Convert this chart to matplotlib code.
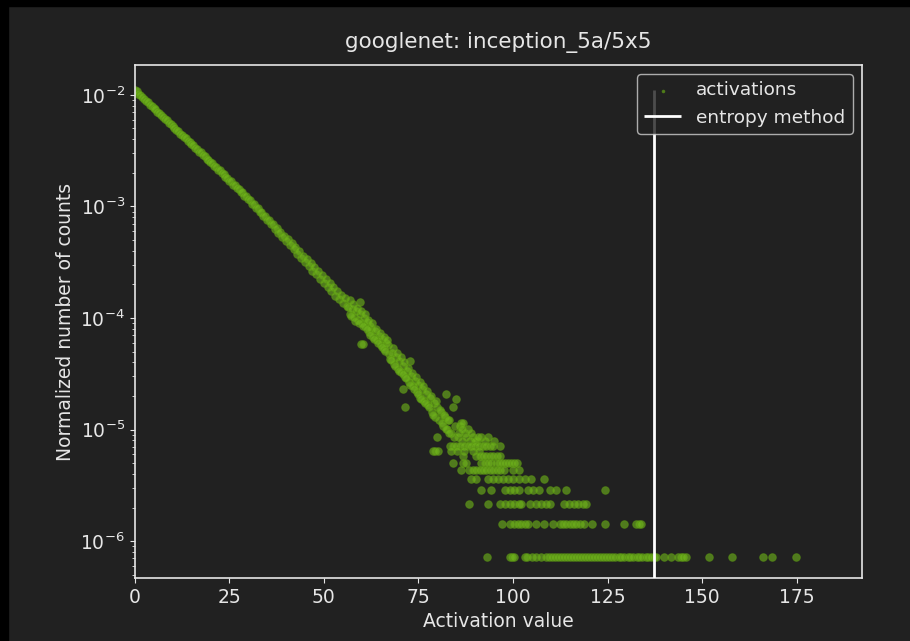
import numpy as np
import matplotlib.pyplot as plt
from matplotlib.patches import Rectangle

plt.rcParams['font.family'] = ['DejaVu Sans']

TITLE = 'googlenet: inception_5a/5x5'
TOTAL_COUNTS = 1.393e6   # one count sits at ~7.2e-7 on the normalised axis
THRESHOLD = 137.4        # threshold found by the entropy method

# ------------------------------------------------------------------
# dense head of the histogram (x = 0 .. 56 every 0.5): log10 of the
# normalised count
# ------------------------------------------------------------------
head_x = np.arange(0, 56.5, 0.5)
head_logy = [
    -1.955, -1.968, -1.990, -2.002, -2.022, -2.034, -2.055, -2.066, -2.087, -2.099,
    -2.120, -2.131, -2.152, -2.163, -2.185, -2.196, -2.218, -2.229, -2.250, -2.262,
    -2.282, -2.293, -2.315, -2.325, -2.347, -2.357, -2.379, -2.389, -2.411, -2.421,
    -2.443, -2.452, -2.476, -2.484, -2.508, -2.516, -2.540, -2.548, -2.572, -2.580,
    -2.604, -2.613, -2.638, -2.645, -2.671, -2.678, -2.705, -2.711, -2.738, -2.743,
    -2.772, -2.776, -2.805, -2.809, -2.838, -2.842, -2.871, -2.875, -2.905, -2.907,
    -2.938, -2.942, -2.975, -2.977, -3.012, -3.012, -3.050, -3.046, -3.087, -3.082,
    -3.125, -3.118, -3.162, -3.154, -3.200, -3.190, -3.238, -3.226, -3.275, -3.262,
    -3.310, -3.295, -3.350, -3.330, -3.385, -3.368, -3.425, -3.398, -3.460, -3.440,
    -3.500, -3.472, -3.538, -3.510, -3.575, -3.545, -3.610, -3.580, -3.650, -3.615,
    -3.688, -3.650, -3.725, -3.690, -3.760, -3.720, -3.800, -3.755, -3.832, -3.790,
    -3.870, -3.820, -3.895,
]

# noisy middle part: activation value and raw bin count
mid_x = [56.5, 57.0, 57.5, 58.0, 58.5, 59.0, 59.5, 59.5, 59.9, 60.0, 60.4, 60.5,
         61.0, 61.5, 62.0, 62.1, 62.5, 63.0, 63.5, 64.0, 64.5, 65.0, 65.5, 66.0,
         66.5, 67.0, 67.3, 67.5, 68.0, 68.5, 69.0, 69.5, 70.0, 70.5, 70.9, 71.0,
         71.4, 71.5, 72.0, 72.5, 72.7, 73.0, 73.5, 74.0, 74.5, 75.0, 75.5, 76.0,
         76.5, 77.0, 77.5, 78.0, 78.5, 78.9, 79.0, 79.3, 79.5, 79.8, 80.0, 80.2,
         80.5, 81.0, 81.5, 82.0, 82.4, 82.5, 83.0, 83.7, 84.1, 84.5, 85.0, 85.5,
         86.0, 86.3, 86.5, 86.8, 87.3, 88.1, 88.6, 89.5, 90.5, 91.5,
         56.8, 57.3, 57.8, 58.3, 58.8, 59.3, 59.8, 60.3, 60.8, 61.3, 61.8, 62.3,
         62.8, 63.3, 63.8, 64.3, 64.8, 65.3, 65.8, 66.3, 66.8, 67.8, 68.3, 68.8,
         69.3, 69.8, 70.3, 70.8, 71.3, 71.8, 72.3, 72.8, 73.3, 73.8, 74.3, 74.8,
         75.3, 75.8, 76.3, 76.8, 77.3, 77.8, 78.3, 78.8, 79.6, 80.7, 81.2, 81.7,
         82.2, 82.7, 83.2, 84.8, 85.8, 86.6, 87.6, 88.9, 89.9, 90.8, 92.5, 93.5,
         95.0]
mid_counts = [176, 150, 168, 141, 160, 133, 195, 150, 82, 126, 82, 140,
              117, 128, 104, 118, 112, 95, 106, 88, 97, 80, 90, 74,
              83, 80, 66, 60, 68, 54, 62, 49, 57, 46, 32, 52,
              22, 41, 47, 37, 57, 42, 34, 38, 30, 35, 27, 32,
              25, 29, 23, 27, 20, 9, 24, 9, 18, 12, 22, 9,
              17, 20, 15, 18, 29, 14, 17, 13, 22, 12, 26, 12,
              15, 16, 11, 16, 13, 14, 11, 12, 11, 12,
              200, 145, 185, 132, 170, 125, 160, 118, 150, 110, 135, 98,
              125, 90, 112, 84, 102, 76, 95, 70, 88, 58, 75, 52,
              68, 47, 62, 44, 56, 40, 50, 35, 45, 32, 41, 29,
              37, 26, 34, 24, 31, 22, 28, 19, 25, 21, 16, 19,
              14, 17, 13, 15, 13, 14, 12, 13, 11, 12, 11, 12,
              11]

# sparse tail: activation values of the bins holding 10, 9, ... 1 counts
tail_10 = [83.3, 84.1, 85.0, 86.0, 87.0, 88.0, 89.0, 90.0, 91.0, 92.0, 93.0,
           94.0, 94.7, 96.6]
tail_9 = [83.5, 85.2, 87.0, 89.4, 91.0]
tail_8 = [86.8, 90.3, 91.2, 92.1, 93.0, 93.9, 94.8, 95.7, 96.5]
tail_7 = [84.1, 86.8, 87.7, 91.6, 92.5, 93.4, 94.3, 95.6, 96.4, 97.2, 98.0,
          98.8, 99.6, 100.4, 101.1]
tail_6 = [86.2, 88.5, 89.4, 90.3, 91.2, 92.1, 93.0, 93.9, 94.8, 95.7, 96.6,
          97.5, 100.0, 101.7]
tail_5 = [89.0, 90.3, 93.4, 94.7, 96.0, 97.3, 98.7, 100.0, 101.7, 103.1,
          104.8, 108.2]
tail_4 = [91.6, 94.3, 97.8, 99.1, 100.4, 101.7, 103.9, 105.4, 107.0, 109.7,
          111.4, 114.1, 124.2]
tail_3 = [88.4, 93.4, 96.5, 97.8, 99.1, 100.4, 101.5, 102.2, 104.4, 106.1,
          107.4, 108.6, 109.7, 113.6, 114.8, 116.0, 117.2, 118.4, 119.4]
tail_2 = [97.1, 99.1, 100.4, 101.3, 102.2, 103.1, 103.9, 106.1, 108.3, 110.5,
          112.3, 113.2, 114.1, 115.0, 115.8, 116.7, 117.6, 118.9, 120.9, 124.2,
          129.3, 132.5, 133.4, 133.9]
tail_1 = [93.1, 99.1, 99.7, 100.3, 103.1, 103.7, 105.0, 106.2, 107.4, 108.6,
          109.5, 110.2, 111.1, 111.8, 112.7, 113.5, 114.2, 115.0, 115.9, 116.6,
          117.4, 118.3, 119.0, 119.8, 120.7, 121.4, 122.2, 123.1, 123.8, 124.6,
          125.5, 126.2, 127.0, 127.9, 128.6, 129.4, 130.3, 131.0, 131.8, 132.7,
          133.4, 134.2, 135.1, 135.8, 136.6, 137.4, 137.8, 140.0, 141.8, 143.5,
          144.3, 144.9, 145.7, 151.9, 157.9, 166.0, 168.4, 174.8]

# ------------------------------------------------------------------
# collect everything into one normalised histogram
# ------------------------------------------------------------------
tails = [tail_10, tail_9, tail_8, tail_7, tail_6, tail_5, tail_4, tail_3, tail_2, tail_1]
tail_levels = [10, 9, 8, 7, 6, 5, 4, 3, 2, 1]

xs = list(head_x) + mid_x
ys = list(10.0 ** np.array(head_logy)) + [c / TOTAL_COUNTS for c in mid_counts]
for lvl, row in zip(tail_levels, tails):
    xs += row
    ys += [lvl / TOTAL_COUNTS] * len(row)

BG = '#212121'
FG = '#e6e6e6'
GREEN = '#70b61c'

fig = plt.figure(figsize=(9.1, 6.41), dpi=100, facecolor=BG)
ax = fig.add_axes([0.148, 0.098, 0.799, 0.801], facecolor=BG)

ax.scatter(xs, ys, s=30, color=GREEN, alpha=0.6, edgecolors='#5a9612',
           linewidths=0.7, label='activations', zorder=2)
ax.vlines(THRESHOLD, 1e-8, max(ys), color='white', lw=2, label='entropy method', zorder=3)

ax.set_yscale('log')
ax.set_xlim(0, 192.2)
ax.set_ylim(4.66e-7, 1.86e-2)
ax.set_xticks([0, 25, 50, 75, 100, 125, 150, 175])

ax.set_title(TITLE, color=FG, fontsize=15.5, pad=12)
ax.set_xlabel('Activation value', color=FG, fontsize=13.5)
ax.set_ylabel('Normalized number of counts', color=FG, fontsize=13.5)

for sp in ax.spines.values():
    sp.set_color(FG)
    sp.set_linewidth(1.2)
ax.tick_params(which='both', colors=FG, labelsize=13.5)

leg = ax.legend(loc='upper right', fontsize=13.3, markerscale=0.35,
                facecolor=BG, edgecolor='#d0d0d0', framealpha=0.8,
                borderaxespad=0.5)
for t in leg.get_texts():
    t.set_color(FG)

# dark strips at the top and left edge of the screenshot
fig.patches.append(Rectangle((0, 1 - 6 / 641), 1, 6 / 641, transform=fig.transFigure,
                             color='black', zorder=-1))
fig.patches.append(Rectangle((0, 0), 8 / 910, 1, transform=fig.transFigure,
                             color='black', zorder=-1))

fig.savefig('out.png', dpi=100, facecolor=BG)
